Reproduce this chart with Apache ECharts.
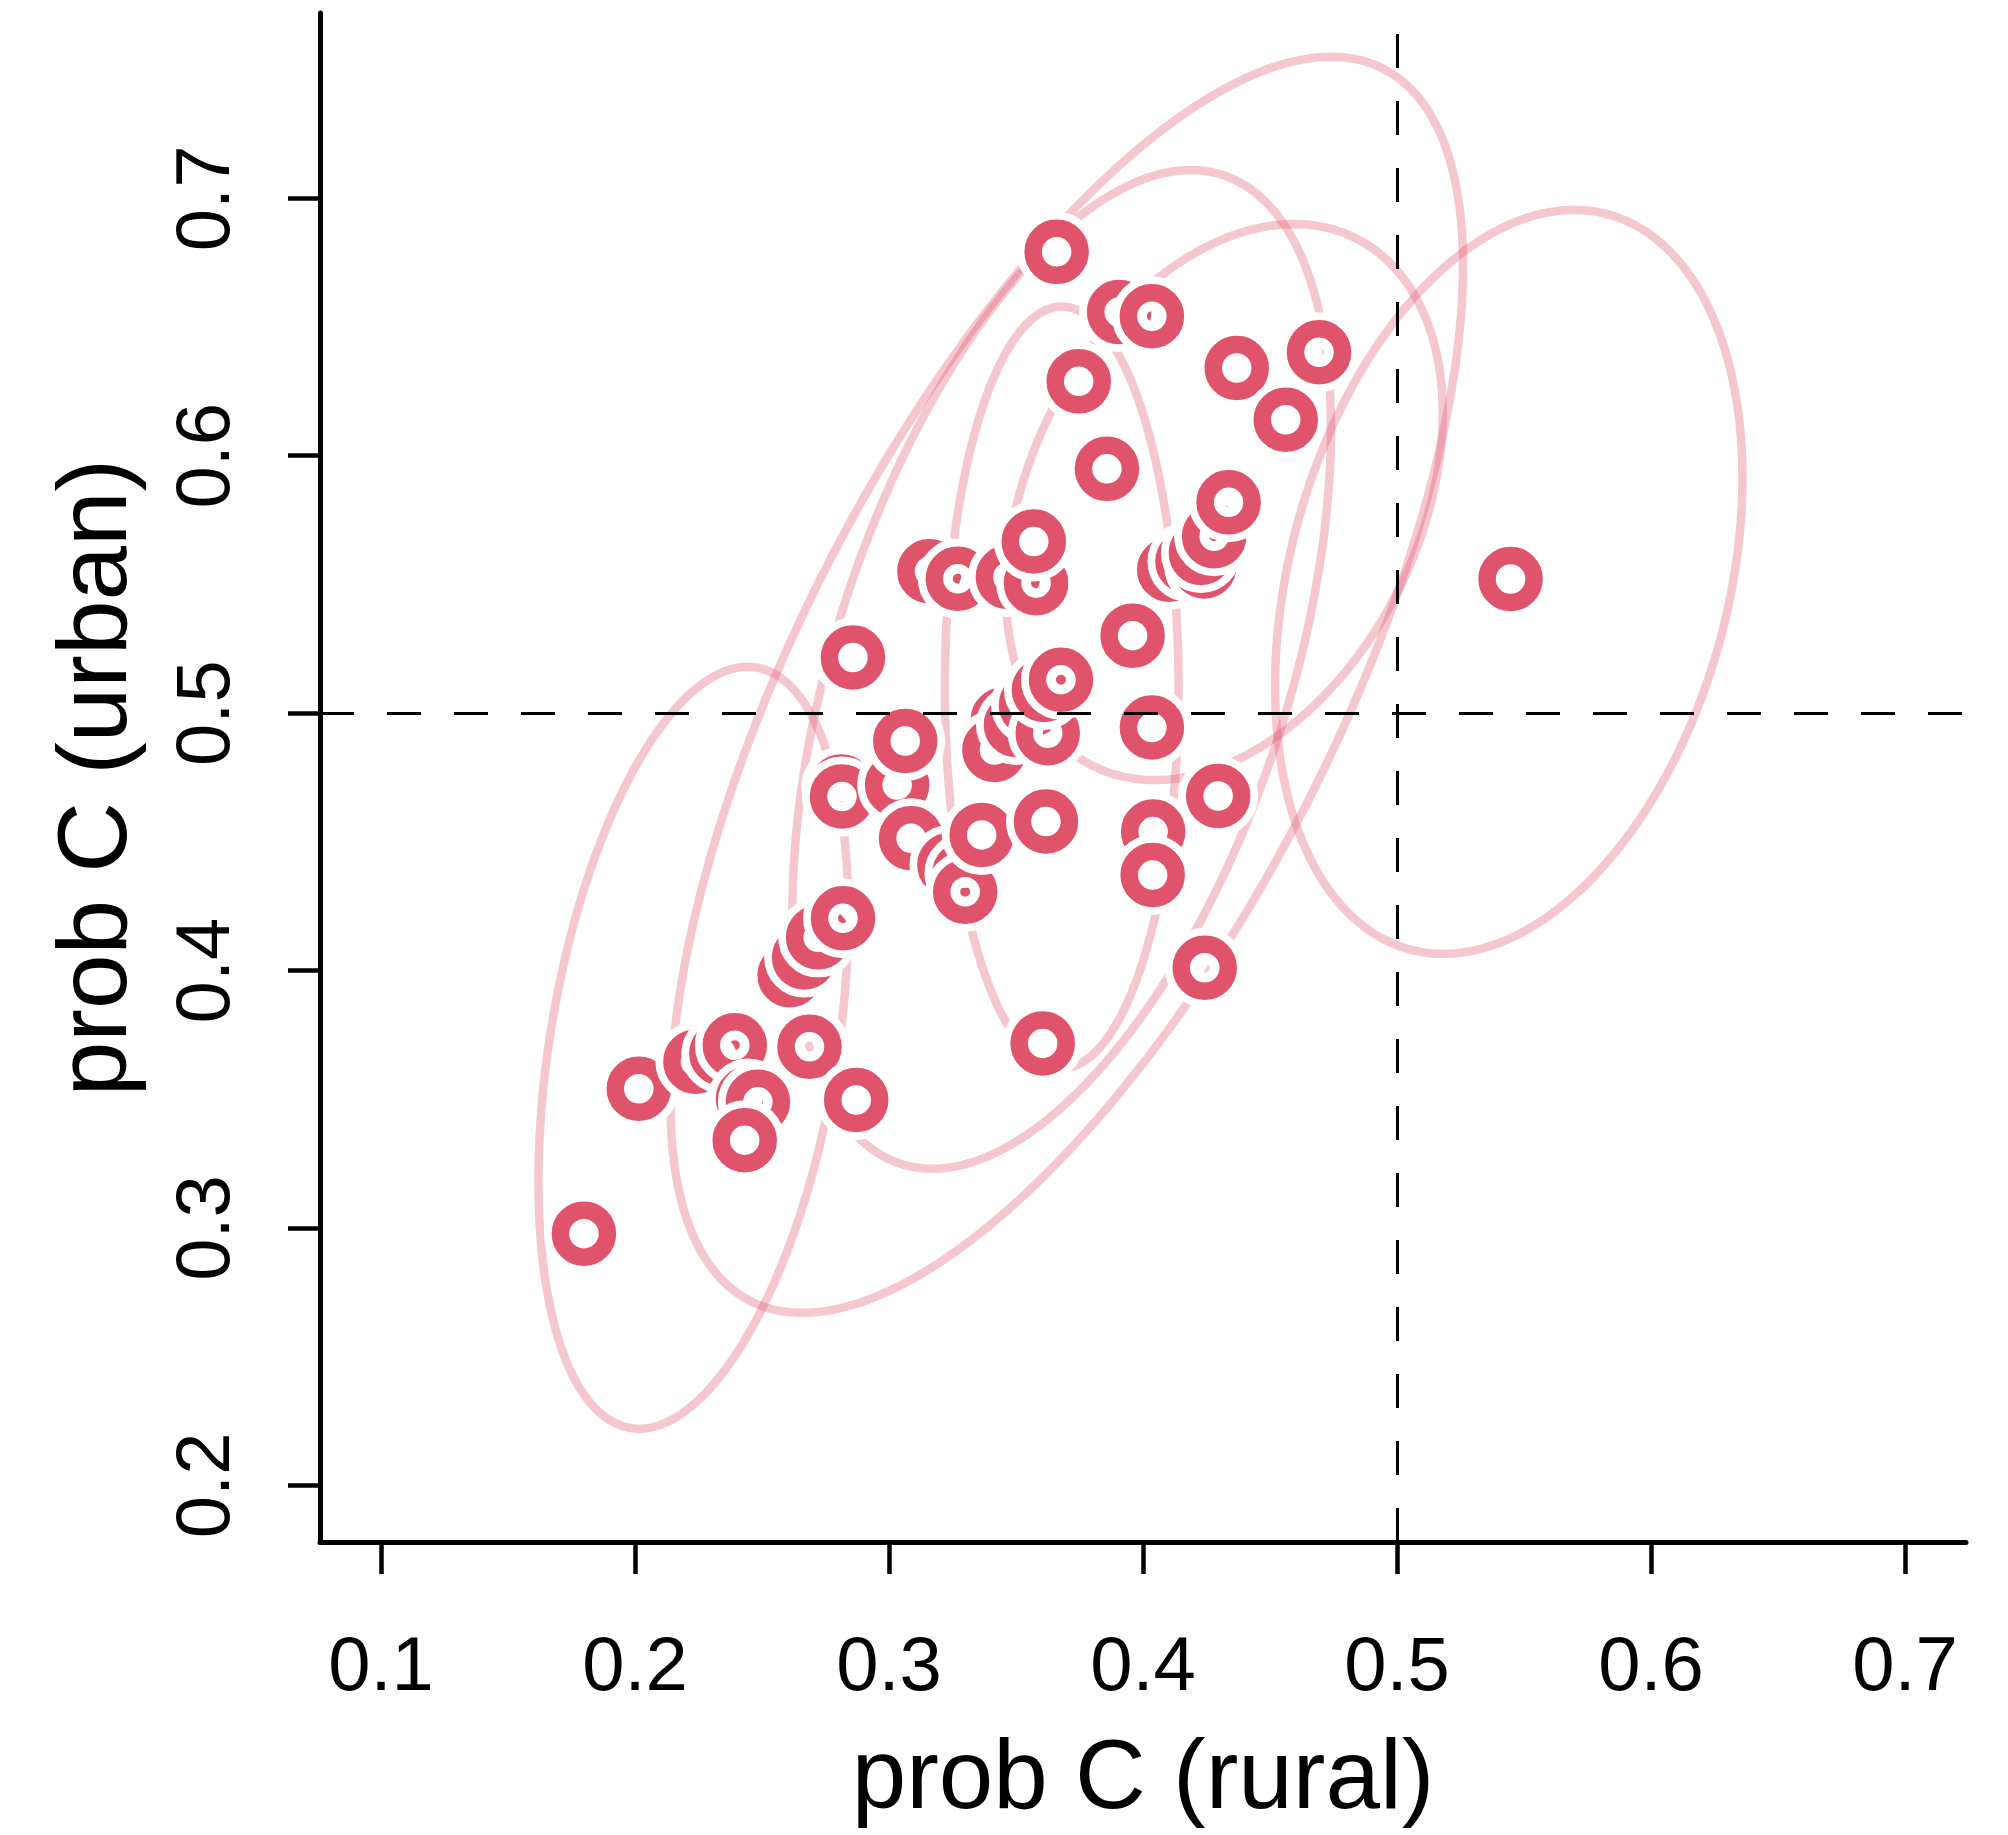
<!DOCTYPE html>
<html>
<head>
<meta charset="utf-8">
<script src="https://cdn.jsdelivr.net/npm/echarts@6/dist/echarts.min.js"></script>
<style>
  html, body { margin: 0; padding: 0; background: #fff; }
  #chart { width: 2008px; height: 1835px; }
</style>
</head>
<body>
<div id="chart"></div>
<script>
// points: prob C (rural) vs prob C (urban)
var pointsX = [0.1799, 0.2015, 0.2238, 0.2340, 0.2393, 0.2445, 0.2484, 0.2432, 0.2687, 0.2871,
               0.2609, 0.2666, 0.2721, 0.2819, 0.2812, 0.2815, 0.2858, 0.3032, 0.3064, 0.3087,
               0.3238, 0.3297, 0.3300, 0.3365, 0.3159, 0.3271, 0.3468, 0.3579, 0.3570, 0.3448,
               0.3415, 0.3500, 0.3559, 0.3625, 0.3610, 0.3677, 0.3618, 0.3605, 0.3660, 0.3747,
               0.3858, 0.3906, 0.4035, 0.3959, 0.4035, 0.4040, 0.4038, 0.4103, 0.4175, 0.4241,
               0.4228, 0.4280, 0.4337, 0.4369, 0.4296, 0.4243, 0.4562, 0.4693, 0.5447];
var pointsY = [0.2978, 0.3541, 0.3646, 0.3678, 0.3710, 0.3503, 0.3490, 0.3341, 0.3704, 0.3497,
               0.3982, 0.4051, 0.4129, 0.4203, 0.4715, 0.4676, 0.5216, 0.4721, 0.4892, 0.4514,
               0.4410, 0.4378, 0.4306, 0.4527, 0.5551, 0.5522, 0.5529, 0.5505, 0.5667, 0.4974,
               0.4857, 0.4954, 0.5032, 0.4922, 0.5090, 0.5130, 0.4579, 0.3717, 0.6792, 0.6289,
               0.5949, 0.6558, 0.6542, 0.5301, 0.4944, 0.4540, 0.4371, 0.5557, 0.5589, 0.5570,
               0.5622, 0.5687, 0.5819, 0.6341, 0.4678, 0.4011, 0.6140, 0.6402, 0.5521];

// ellipses: centre, half extents and correlation
var ellipseCx = [0.223, 0.370, 0.368, 0.432, 0.368, 0.544];
var ellipseCy = [0.370, 0.511, 0.517, 0.582, 0.510, 0.551];
var ellipseSx = [0.061, 0.156, 0.106, 0.086, 0.046, 0.092];
var ellipseSy = [0.148, 0.244, 0.194, 0.108, 0.148, 0.1445];
var ellipseR  = [0.35, 0.667, 0.48, 0.32, 0.0, 0.28];

var xTicks = [0.1, 0.2, 0.3, 0.4, 0.5, 0.6, 0.7];
var yTicks = [0.2, 0.3, 0.4, 0.5, 0.6, 0.7];

var font = "'Liberation Sans', Arial, Helvetica, sans-serif";
var red = '#DF536B';

function ellipseOutline(i) {
    var d = Math.acos(ellipseR[i]);
    var pts = [];
    for (var k = 0; k <= 200; k++) {
        var a = 2 * Math.PI * k / 200;
        pts.push([ellipseCx[i] + ellipseSx[i] * Math.cos(a + d / 2),
                  ellipseCy[i] + ellipseSy[i] * Math.cos(a - d / 2)]);
    }
    return pts;
}

var chart = echarts.init(document.getElementById('chart'));

var series = [];
for (var i = 0; i < ellipseCx.length; i++) {
    series.push({
        type: 'line',
        data: ellipseOutline(i),
        showSymbol: false,
        symbol: 'none',
        silent: true,
        z: 1,
        lineStyle: { color: 'rgba(223,83,107,0.32)', width: 8.5 }
    });
}

// dashed reference lines at 0.5
series.push({
    type: 'line',
    data: [],
    z: 2,
    markLine: {
        silent: true,
        symbol: ['none', 'none'],
        label: { show: false },
        lineStyle: { color: '#000', width: 3, type: [34, 33] },
        data: [{ xAxis: 0.5 }, { yAxis: 0.5 }]
    }
});

var pointData = pointsX.map(function (x, k) { return [x, pointsY[k]]; });
series.push({
    type: 'custom',
    z: 3,
    data: pointData,
    renderItem: function (params, api) {
        var p = api.coord([api.value(0), api.value(1)]);
        return {
            type: 'group',
            children: [
                { type: 'circle', shape: { cx: p[0], cy: p[1], r: 22.5 },
                  style: { fill: 'none', stroke: '#fff', lineWidth: 35 } },
                { type: 'circle', shape: { cx: p[0], cy: p[1], r: 23.5 },
                  style: { fill: 'none', stroke: red, lineWidth: 17.5 } }
            ]
        };
    }
});

chart.setOption({
    animation: false,
    backgroundColor: '#fff',
    grid: { left: 320, right: 42, top: 13, bottom: 293 },
    xAxis: {
        type: 'value',
        min: 0.076,
        max: 0.724,
        name: 'prob C (rural)',
        nameLocation: 'middle',
        nameGap: 190,
        nameTextStyle: { fontSize: 98, color: '#000', fontFamily: font },
        splitLine: { show: false },
        axisLine: { show: true, onZero: false, lineStyle: { color: '#000', width: 5, cap: 'round' } },
        axisTick: { show: true, customValues: xTicks, length: 32, lineStyle: { color: '#000', width: 4.5 } },
        axisLabel: {
            customValues: xTicks,
            fontSize: 76, color: '#000', fontFamily: font, margin: 89,
            formatter: function (v) { return v.toFixed(1); }
        }
    },
    yAxis: {
        type: 'value',
        min: 0.178,
        max: 0.772,
        name: 'prob C (urban)',
        nameLocation: 'middle',
        nameGap: 172,
        nameRotate: 90,
        nameTextStyle: { fontSize: 98, color: '#000', fontFamily: font },
        splitLine: { show: false },
        axisLine: { show: true, onZero: false, lineStyle: { color: '#000', width: 5, cap: 'round' } },
        axisTick: { show: true, customValues: yTicks, length: 32, lineStyle: { color: '#000', width: 4.5 } },
        axisLabel: {
            customValues: yTicks,
            rotate: 90,
            fontSize: 76, color: '#000', fontFamily: font, margin: 74,
            formatter: function (v) { return v.toFixed(1); }
        }
    },
    series: series
});
</script>
</body>
</html>
